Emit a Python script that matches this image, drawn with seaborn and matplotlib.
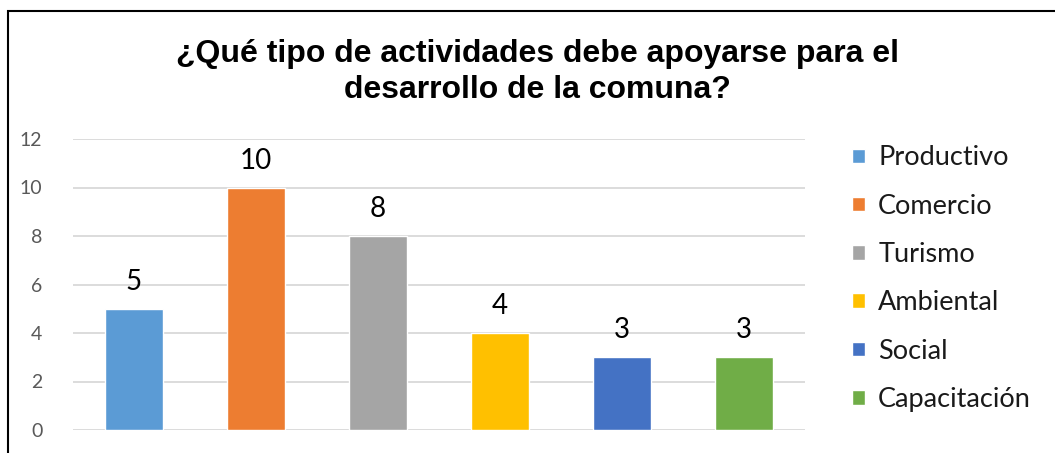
import matplotlib
matplotlib.use('Agg')
import matplotlib.pyplot as plt
import seaborn as sns
import pandas as pd
from matplotlib.patches import Rectangle

# data
categories = ['Productivo', 'Comercio', 'Turismo', 'Ambiental', 'Social', 'Capacitación']
values = [5, 10, 8, 4, 3, 3]
colors = ['#5B9BD5', '#ED7D31', '#A5A5A5', '#FFC000', '#4472C4', '#70AD47']
yticks = [0, 2, 4, 6, 8, 10, 12]
title = '¿Qué tipo de actividades debe apoyarse para el\ndesarrollo de la comuna?'

df = pd.DataFrame({'actividad': categories, 'n': values})

sns.set_style('white')
plt.rcParams['font.family'] = ['Lato', 'DejaVu Sans']

fig = plt.figure(figsize=(10.55, 4.53), dpi=100)
ax = fig.add_axes([73 / 1055, 23 / 453, 732 / 1055, 291 / 453])

sns.barplot(data=df, x='actividad', y='n', hue='actividad', palette=colors,
            saturation=1, dodge=False, width=0.47, edgecolor='white', linewidth=1,
            legend=False, ax=ax, zorder=3)

ax.set_ylim(0, 12)
ax.set_xlim(-0.5, len(categories) - 0.5)
ax.set_yticks(yticks)
ax.set_yticklabels([str(t) for t in yticks], color='#595959', fontsize=14)
ax.set_xticks([])
ax.set_xlabel('')
ax.set_ylabel('')
ax.tick_params(axis='y', length=0, pad=22)
ax.grid(axis='y', color='#D9D9D9', linewidth=1.3, zorder=0)
for s in ax.spines.values():
    s.set_visible(False)

for cont in ax.containers:
    ax.bar_label(cont, fontsize=20, padding=10, color='black')

# legend
handles = [Rectangle((0, 0), 1, 1, facecolor=c) for c in colors]
ax.legend(handles, categories, loc='upper left', bbox_to_anchor=(1.05, 1.015),
          frameon=False, fontsize=19.5, handlelength=0.45, handleheight=0.45,
          handletextpad=0.5, labelspacing=0.86, borderaxespad=0,
          labelcolor='#1a1a1a')

fig.text(537 / 1055, 1 - 72 / 453, title, ha='center', va='center', color='black',
         fontsize=23, fontweight='bold', family='Liberation Sans', linespacing=1.3)

# outer frame (cut off at right and bottom)
fig.add_artist(Rectangle((8 / 1055, -0.2), 1.2, 1.2 - 11 / 453,
                         transform=fig.transFigure, fill=False,
                         edgecolor='black', linewidth=1.5))

fig.savefig('out.png', dpi=100)
